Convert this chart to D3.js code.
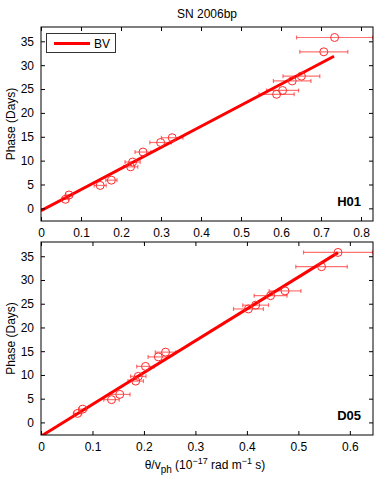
<!DOCTYPE html>
<html>
<head>
<meta charset="utf-8">
<script src="https://cdn.jsdelivr.net/npm/d3@7"></script>
<style>
  body { margin: 0; background: #fff; }
  svg text { font-family: "Liberation Sans", Arial, sans-serif; fill: #000; }
</style>
</head>
<body>
<svg id="chart" width="382" height="481"></svg>
<script>
// phase of each epoch (days)
var phase = [1.9, 2.8, 4.8, 5.9, 8.7, 9.7, 11.8, 13.8, 14.8, 23.9, 24.7, 26.7, 27.7, 32.8, 35.8]

// theta / v_ph, H01 model
var h01X = [0.061, 0.070, 0.148, 0.176, 0.224, 0.229, 0.255, 0.299, 0.328, 0.589, 0.604, 0.628, 0.651, 0.707, 0.734]
var h01Err = [0.008, 0.008, 0.015, 0.014, 0.018, 0.019, 0.02, 0.027, 0.027, 0.044, 0.04, 0.047, 0.046, 0.06, 0.095]
var h01Fit = [-0.5, 44.2]   // intercept, slope
var h01FitEnd = 0.7325

// theta / v_ph, D05 model
var d05X = [0.071, 0.081, 0.137, 0.153, 0.184, 0.189, 0.203, 0.228, 0.242, 0.403, 0.417, 0.446, 0.474, 0.545, 0.577]
var d05Err = [0.008, 0.008, 0.015, 0.02, 0.015, 0.015, 0.017, 0.02, 0.02, 0.029, 0.025, 0.032, 0.031, 0.05, 0.067]
var d05Fit = [-2.9, 67.0]
var d05FitEnd = 0.577

var yTicks = [0, 5, 10, 15, 20, 25, 30, 35]
var h01Ticks = [0, 0.1, 0.2, 0.3, 0.4, 0.5, 0.6, 0.7, 0.8]
var d05Ticks = [0, 0.1, 0.2, 0.3, 0.4, 0.5, 0.6]

var svg = d3.select("#chart")
var left = 41, right = 373

svg.append("text")
    .attr("x", 207).attr("y", 18)
    .attr("text-anchor", "middle")
    .style("font-size", "12px")
    .text("SN 2006bp")

function drawPanel(opt) {
    var x = d3.scaleLinear().domain([0, opt.xmax]).range([left, right])
    var y = d3.scaleLinear().domain([-2.65, 38]).range([opt.bottom, opt.top])
    var g = svg.append("g")
    var clipId = "clip-" + opt.name
    svg.append("clipPath").attr("id", clipId)
        .append("rect")
        .attr("x", left).attr("y", opt.top)
        .attr("width", right - left).attr("height", opt.bottom - opt.top)

    var plot = g.append("g").attr("clip-path", "url(#" + clipId + ")")

    // fitted line
    var lineData = [0, opt.fitEnd].map(function(v) { return [v, opt.fit[0] + opt.fit[1] * v] })
    plot.append("path")
        .attr("d", d3.line().x(function(d) { return x(d[0]) }).y(function(d) { return y(d[1]) })(lineData))
        .attr("stroke", "#ff0000").attr("stroke-width", 3).attr("fill", "none")

    // error bars
    var pts = opt.xs.map(function(v, i) { return {x: v, y: phase[i], e: opt.err[i]} })
    var eb = plot.selectAll(".eb").data(pts).enter().append("g")
        .attr("stroke", "rgba(255,0,0,0.55)").attr("stroke-width", 1.2)
    eb.append("line")
        .attr("x1", function(d) { return x(d.x - d.e) })
        .attr("x2", function(d) { return x(d.x + d.e) })
        .attr("y1", function(d) { return y(d.y) })
        .attr("y2", function(d) { return y(d.y) })
    eb.append("line")
        .attr("x1", function(d) { return x(d.x - d.e) })
        .attr("x2", function(d) { return x(d.x - d.e) })
        .attr("y1", function(d) { return y(d.y) - 2 })
        .attr("y2", function(d) { return y(d.y) + 2 })
    eb.append("line")
        .attr("x1", function(d) { return x(d.x + d.e) })
        .attr("x2", function(d) { return x(d.x + d.e) })
        .attr("y1", function(d) { return y(d.y) - 2 })
        .attr("y2", function(d) { return y(d.y) + 2 })

    plot.selectAll(".pt").data(pts).enter().append("circle")
        .attr("cx", function(d) { return x(d.x) })
        .attr("cy", function(d) { return y(d.y) })
        .attr("r", 4)
        .attr("fill", "none")
        .attr("stroke", "#ff2a2a").attr("stroke-width", 1)

    // axes, matlab style ticks inside on all sides
    var tl = 4
    g.append("g").attr("transform", "translate(0," + opt.bottom + ")")
        .call(d3.axisBottom(x).tickValues(opt.xticks).tickSizeInner(-tl).tickSizeOuter(0).tickPadding(7)
            .tickFormat(function(d) { return d === 0 ? "0" : d3.format(".1f")(d) }))
    g.append("g").attr("transform", "translate(0," + opt.top + ")")
        .call(d3.axisTop(x).tickValues(opt.xticks).tickSizeInner(-tl).tickSizeOuter(0).tickFormat(""))
    g.append("g").attr("transform", "translate(" + left + ",0)")
        .call(d3.axisLeft(y).tickValues(yTicks).tickSizeInner(-tl).tickSizeOuter(0).tickPadding(7))
    g.append("g").attr("transform", "translate(" + right + ",0)")
        .call(d3.axisRight(y).tickValues(yTicks).tickSizeInner(-tl).tickSizeOuter(0).tickFormat(""))
    g.selectAll(".domain").remove()
    g.selectAll(".tick line").attr("stroke", "#000")
    g.selectAll(".tick text").style("font-size", "12px").style("font-family", "Liberation Sans, Arial, sans-serif")

    g.append("rect")
        .attr("x", left).attr("y", opt.top)
        .attr("width", right - left).attr("height", opt.bottom - opt.top)
        .attr("fill", "none").attr("stroke", "#000").attr("stroke-width", 1)

    g.append("text")
        .attr("transform", "translate(15," + ((opt.top + opt.bottom) / 2) + ") rotate(-90)")
        .attr("text-anchor", "middle")
        .style("font-size", "12px")
        .text("Phase (Days)")

    g.append("text")
        .attr("x", right - 12).attr("y", opt.bottom - 15)
        .attr("text-anchor", "end")
        .style("font-size", "13px").style("font-weight", "bold")
        .text(opt.name)
    return g
}

drawPanel({name: "H01", xs: h01X, err: h01Err, fit: h01Fit, fitEnd: h01FitEnd, xmax: 0.83, xticks: h01Ticks, top: 27, bottom: 221})
drawPanel({name: "D05", xs: d05X, err: d05Err, fit: d05Fit, fitEnd: d05FitEnd, xmax: 0.645, xticks: d05Ticks, top: 242, bottom: 435})

// legend
var leg = svg.append("g")
leg.append("rect").attr("x", 46.5).attr("y", 33.5).attr("width", 69).attr("height", 19)
    .attr("fill", "#fff").attr("stroke", "#333").attr("stroke-width", 1)
leg.append("line").attr("x1", 54).attr("x2", 90).attr("y1", 43.5).attr("y2", 43.5)
    .attr("stroke", "#ff0000").attr("stroke-width", 3)
leg.append("text").attr("x", 94).attr("y", 48).style("font-size", "12px").text("BV")

// x label
var xl = svg.append("text")
    .attr("x", 205).attr("y", 469)
    .attr("text-anchor", "middle")
    .style("font-size", "12px")
xl.append("tspan").text("θ/v")
xl.append("tspan").attr("dy", 4).style("font-size", "10px").text("ph")
xl.append("tspan").attr("dy", -4).text(" (10")
xl.append("tspan").attr("dy", -5).style("font-size", "9px").text("−17")
xl.append("tspan").attr("dy", 5).text(" rad m")
xl.append("tspan").attr("dy", -5).style("font-size", "9px").text("−1")
xl.append("tspan").attr("dy", 5).text(" s)")
</script>
</body>
</html>
